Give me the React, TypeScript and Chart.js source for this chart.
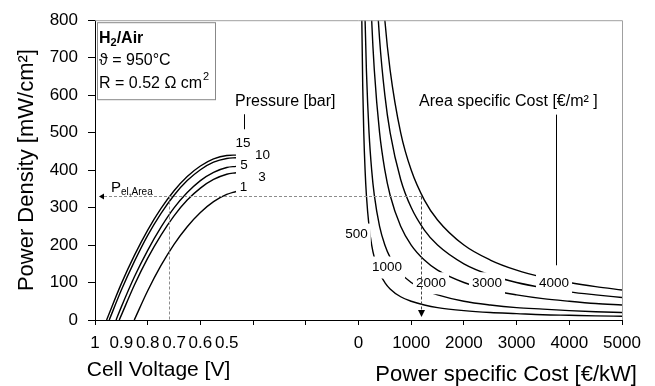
import React, { useEffect, useRef } from 'react';
import { Chart, registerables } from 'chart.js';

Chart.register(...registerables);

// ---------- Left panel: cell voltage [V] vs power density [mW/cm²] ----------
const pressureLevels = [1, 3, 5, 10, 15]; // bar
const openCircuitVoltage = [0.851, 0.908, 0.92, 0.946, 0.956]; // V where P = 0
const voltageSamples = [0.9, 0.85, 0.8, 0.75, 0.7, 0.65, 0.6, 0.55, 0.5, 0.465];
const powerP1 = [null, null, 78, 145, 202, 249, 287, 316, 335, 343];
const powerP3 = [13, 94, 165, 226, 278, 320, 352, 375, 389, 393];
const powerP5 = [35, 116, 186, 247, 299, 340, 372, 394, 407, 410];
const powerP10 = [80, 157, 226, 284, 333, 372, 401, 421, 431, 433];
const powerP15 = [97, 173, 240, 297, 345, 383, 411, 430, 439, 440];
const pressureCurves = [powerP1, powerP3, powerP5, powerP10, powerP15];

const voltageTicks = [1, 0.9, 0.8, 0.7, 0.6, 0.5];
const voltageTickLabels = ['1', '0.9', '0.8', '0.7', '0.6', '0.5'];
const voltageTickMarks = [1, 0.8, 0.6, 0.4, 0.2];

// ---------- Right panel: power specific cost [€/kW] vs power density ----------
const areaCostLevels = [500, 1000, 2000, 3000, 4000]; // €/m²
const powerCostSamples = [60, 80, 100, 125, 150, 200, 250, 300, 400, 500, 600, 800, 1000, 1250, 1500, 2000, 2500, 3000, 3500, 4000, 4500, 5000];
const pdA500 = [833, 625, 500, 400, 333, 250, 200, 167, 125, 100, 83, 62, 50, 40, 33, 25, 20, 17, 14, 12.5, 11, 10];
const pdA1000 = [null, 1250, 1000, 800, 667, 500, 400, 333, 250, 200, 167, 125, 100, 80, 67, 50, 40, 33, 29, 25, 22, 20];
const pdA2000 = [null, null, null, null, 1333, 1000, 800, 667, 500, 400, 333, 250, 200, 160, 133, 100, 80, 67, 57, 50, 44, 40];
const pdA3000 = [null, null, null, null, null, 1500, 1200, 1000, 750, 600, 500, 375, 300, 240, 200, 150, 120, 100, 86, 75, 67, 60];
const pdA4000 = [null, null, null, null, null, null, null, 1333, 1000, 800, 667, 500, 400, 320, 267, 200, 160, 133, 114, 100, 89, 80];
const areaCostCurves = [pdA500, pdA1000, pdA2000, pdA3000, pdA4000];

const costTicks = [0, 1000, 2000, 3000, 4000, 5000];
const powerDensityTicks = [0, 100, 200, 300, 400, 500, 600, 700, 800];

// operating point marked by the dashed guide lines
const operatingPower = 330;
const operatingVoltage = 0.719;
const operatingCost = 1180;

// shared horizontal axis: the voltage panel occupies [-5000, 0) (reversed), cost panel [0, 5000]
const VOLT_UNIT = 5000;
const vToX = (v: number) => -VOLT_UNIT * v;

const FONT = "'Liberation Sans', Arial, sans-serif";

const tickLabelMap = new Map<number, string>();
const tickMarkSet = new Set<number>();
voltageTicks.forEach((v, i) => tickLabelMap.set(vToX(v), voltageTickLabels[i]));
voltageTickMarks.forEach((v) => tickMarkSet.add(vToX(v)));
costTicks.forEach((c) => {
  tickLabelMap.set(c, String(c));
  tickMarkSet.add(c);
});
const allTickValues = Array.from(new Set([...tickLabelMap.keys(), ...tickMarkSet])).sort((a, b) => a - b);

function buildDatasets() {
  const sets: any[] = [];
  pressureLevels.forEach((p, i) => {
    const pts: { x: number; y: number }[] = [{ x: vToX(openCircuitVoltage[i]), y: 0 }];
    voltageSamples.forEach((v, j) => {
      const val = pressureCurves[i][j];
      if (val !== null && v < openCircuitVoltage[i]) pts.push({ x: vToX(v), y: val as number });
    });
    sets.push({ label: `${p} bar`, data: pts });
  });
  areaCostLevels.forEach((a, i) => {
    const pts: { x: number; y: number }[] = [];
    powerCostSamples.forEach((c, j) => {
      const val = areaCostCurves[i][j];
      if (val !== null) pts.push({ x: c, y: val as number });
    });
    sets.push({ label: `${a} €/m²`, data: pts });
  });
  return sets.map((s) => ({
    ...s,
    borderColor: '#000',
    borderWidth: 1.4,
    pointRadius: 0,
    fill: false,
    cubicInterpolationMode: 'monotone',
  }));
}

const annotations = {
  id: 'annotations',
  afterDatasetsDraw(chart: any) {
    const { ctx, chartArea: a } = chart;
    const xs = chart.scales.x;
    const ys = chart.scales.y;
    const px = (v: number) => xs.getPixelForValue(v);
    const py = (v: number) => ys.getPixelForValue(v);
    ctx.save();

    // top and right frame
    ctx.strokeStyle = '#a0a0a0';
    ctx.lineWidth = 1;
    ctx.beginPath();
    ctx.moveTo(a.left, a.top + 0.5);
    ctx.lineTo(a.right + 0.5, a.top + 0.5);
    ctx.lineTo(a.right + 0.5, a.bottom);
    ctx.stroke();

    ctx.fillStyle = '#000';
    ctx.textBaseline = 'middle';

    // info box
    const bx = a.left + 2, by = a.top + 2;
    ctx.fillStyle = '#fff';
    ctx.fillRect(bx, by, 118, 77);
    ctx.strokeStyle = '#888';
    ctx.strokeRect(bx + 0.5, by + 0.5, 118, 77);
    ctx.fillStyle = '#000';
    ctx.textAlign = 'left';
    let tx = a.left + 4;
    let ty = a.top + 18.5;
    ctx.font = `bold 16px ${FONT}`;
    ctx.fillText('H', tx, ty);
    let w = ctx.measureText('H').width;
    ctx.font = `bold 11px ${FONT}`;
    ctx.fillText('2', tx + w, ty + 4);
    w += ctx.measureText('2').width;
    ctx.font = `bold 16px ${FONT}`;
    ctx.fillText('/Air', tx + w, ty);
    ctx.font = `16px ${FONT}`;
    ctx.fillText('ϑ = 950°C', tx, a.top + 40);
    ty = a.top + 63.5;
    ctx.fillText('R = 0.52 Ω cm', tx, ty);
    w = ctx.measureText('R = 0.52 Ω cm').width;
    ctx.font = `11px ${FONT}`;
    ctx.fillText('2', tx + w + 1, ty - 7);

    // pressure labels
    const pressureLabelPos: Record<number, [number, number]> = {
      15: [-2192, 471], 10: [-1822, 439], 5: [-2173, 413], 3: [-1831, 381], 1: [-2182, 355],
    };
    ctx.textAlign = 'center';
    ctx.font = `13.5px ${FONT}`;
    pressureLevels.forEach((p) => {
      const [x, y] = pressureLabelPos[p];
      ctx.fillText(String(p), px(x), py(y));
    });
    ctx.textAlign = 'left';
    ctx.font = `16px ${FONT}`;
    ctx.fillText('Pressure [bar]', px(-2343), py(583));
    ctx.strokeStyle = '#000';
    ctx.beginPath();
    ctx.moveTo(Math.round(px(-2182)) + 0.5, py(549));
    ctx.lineTo(Math.round(px(-2182)) + 0.5, py(509));
    ctx.stroke();

    // area specific cost labels (white backing cuts the curves)
    const costLabelPos: Record<number, [number, number]> = {
      500: [-38, 228], 1000: [541, 140], 2000: [1376, 98], 3000: [2438, 98], 4000: [3710, 98],
    };
    ctx.font = `13.5px ${FONT}`;
    ctx.textAlign = 'center';
    areaCostLevels.forEach((c) => {
      const [x, y] = costLabelPos[c];
      const cx = px(x), cy = py(y);
      const tw = ctx.measureText(String(c)).width;
      ctx.fillStyle = '#fff';
      ctx.fillRect(cx - tw / 2 - 3, cy - 11, tw + 6, 22);
      ctx.fillStyle = '#000';
      ctx.fillText(String(c), cx, cy);
    });
    ctx.textAlign = 'left';
    ctx.font = `16px ${FONT}`;
    ctx.fillText('Area specific Cost [€/m² ]', px(1148), py(583));
    ctx.beginPath();
    ctx.moveTo(Math.round(px(3748)) + 0.5, py(548));
    ctx.lineTo(Math.round(px(3748)) + 0.5, py(146));
    ctx.stroke();

    // dashed guide lines
    const yOp = Math.round(py(operatingPower)) + 0.5;
    const xV = Math.round(px(vToX(operatingVoltage))) + 0.5;
    const xC = Math.round(px(operatingCost)) + 0.5;
    ctx.setLineDash([3, 2]);
    ctx.strokeStyle = '#8c8c8c';
    ctx.beginPath();
    ctx.moveTo(a.left + 9, yOp);
    ctx.lineTo(xC, yOp);
    ctx.moveTo(xV, yOp);
    ctx.lineTo(xV, a.bottom);
    ctx.stroke();
    ctx.strokeStyle = '#444';
    ctx.beginPath();
    ctx.moveTo(xC, yOp);
    ctx.lineTo(xC, a.bottom - 9);
    ctx.stroke();
    ctx.setLineDash([]);
    // arrow heads
    ctx.fillStyle = '#000';
    ctx.beginPath();
    ctx.moveTo(a.left + 4, yOp);
    ctx.lineTo(a.left + 9, yOp - 3);
    ctx.lineTo(a.left + 9, yOp + 3);
    ctx.closePath();
    ctx.fill();
    ctx.beginPath();
    ctx.moveTo(xC, a.bottom - 3);
    ctx.lineTo(xC - 3.5, a.bottom - 10);
    ctx.lineTo(xC + 3.5, a.bottom - 10);
    ctx.closePath();
    ctx.fill();

    // P_el,Area label
    ctx.textAlign = 'left';
    ctx.font = `15px ${FONT}`;
    ctx.fillText('P', a.left + 16, yOp - 8.5);
    const pw = ctx.measureText('P').width;
    ctx.font = `10px ${FONT}`;
    ctx.fillText('el,Area', a.left + 16 + pw, yOp - 4.5);

    // x-axis titles
    ctx.textAlign = 'center';
    ctx.textBaseline = 'alphabetic';
    ctx.font = `21px ${FONT}`;
    ctx.fillText('Cell Voltage [V]', px(-3795), a.bottom + 56);
    ctx.font = `22px ${FONT}`;
    ctx.fillText('Power specific Cost [€/kW]', px(2800), a.bottom + 61);

    ctx.restore();
  },
};

export default function App() {
  const ref = useRef<HTMLCanvasElement | null>(null);
  useEffect(() => {
    if (!ref.current) return;
    const chart = new Chart(ref.current, {
      type: 'line',
      data: { datasets: buildDatasets() as any },
      options: {
        responsive: false,
        animation: false,
        events: [],
        layout: { padding: { left: 0, top: 18, right: 33, bottom: 0 } },
        elements: { line: { capBezierPoints: false } as any },
        plugins: { legend: { display: false }, tooltip: { enabled: false } },
        scales: {
          x: {
            type: 'linear',
            min: -VOLT_UNIT,
            max: 5000,
            afterFit: (s: any) => { s.height = 66; },
            afterBuildTicks: (s: any) => { s.ticks = allTickValues.map((v) => ({ value: v })); },
            ticks: {
              autoSkip: false,
              maxRotation: 0,
              padding: 8,
              color: '#000',
              font: { family: FONT, size: 17 },
              callback: (value: any) => tickLabelMap.get(Number(value)) ?? '',
            },
            grid: {
              drawOnChartArea: false,
              drawTicks: true,
              tickLength: 5,
              tickColor: (c: any) => (c.tick && tickMarkSet.has(c.tick.value) ? '#000' : 'rgba(0,0,0,0)'),
            },
            border: { display: true, color: '#000', width: 1 },
          },
          y: {
            type: 'linear',
            min: 0,
            max: 800,
            afterFit: (s: any) => { s.width = 95; },
            afterBuildTicks: (s: any) => { s.ticks = powerDensityTicks.map((v) => ({ value: v })); },
            ticks: {
              padding: 10,
              color: '#000',
              font: { family: FONT, size: 17 },
            },
            grid: { drawOnChartArea: false, drawTicks: true, tickLength: 7, tickColor: '#000' },
            border: { display: true, color: '#000', width: 1 },
            title: {
              display: true,
              text: 'Power Density [mW/cm²]',
              color: '#000',
              font: { family: FONT, size: 22 },
              padding: { top: 14, bottom: 0 },
            },
          },
        },
      },
      plugins: [annotations],
    });
    return () => chart.destroy();
  }, []);
  return (
    <div style={{ position: 'absolute', left: 0, top: 0, width: 655, height: 386, background: '#fff' }}>
      <canvas ref={ref} width={655} height={386} />
    </div>
  );
}
